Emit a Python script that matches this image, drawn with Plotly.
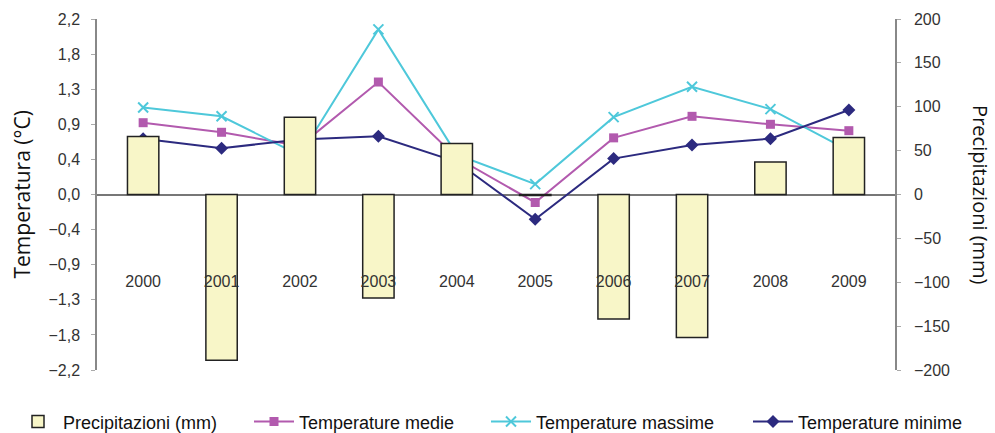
import plotly.graph_objects as go

anni = ["2000", "2001", "2002", "2003", "2004", "2005", "2006", "2007", "2008", "2009"]
precipitazioni = [66, -189, 88, -118, 58, -1, -142, -163, 37, 65]
temp_medie = [0.90, 0.78, 0.61, 1.41, 0.46, -0.10, 0.71, 0.98, 0.88, 0.80]
temp_massime = [1.09, 0.98, 0.49, 2.07, 0.50, 0.13, 0.97, 1.35, 1.07, 0.55]
temp_minime = [0.70, 0.58, 0.69, 0.73, 0.41, -0.31, 0.45, 0.62, 0.70, 1.06]

temp_ticks = [-2.2, -1.76, -1.32, -0.88, -0.44, 0, 0.44, 0.88, 1.32, 1.76, 2.2]
prec_ticks = [-200, -150, -100, -50, 0, 50, 100, 150, 200]

fig = go.Figure()

fig.add_trace(go.Bar(
    x=anni, y=precipitazioni, name="Precipitazioni (mm)", yaxis="y2",
    width=0.4, legend="legend",
    marker=dict(color="#F8F6C8", line=dict(color="#222222", width=1.5)),
))
fig.add_trace(go.Scatter(
    x=anni, y=temp_medie, name="Temperature medie", mode="lines+markers",
    legend="legend2",
    line=dict(color="#B25AAE", width=2),
    marker=dict(symbol="square", size=9, color="#B25AAE"),
))
fig.add_trace(go.Scatter(
    x=anni, y=temp_massime, name="Temperature massime", mode="lines+markers",
    legend="legend3",
    line=dict(color="#4EC8DA", width=2),
    marker=dict(symbol="x-thin", size=10, line=dict(color="#4EC8DA", width=2)),
))
fig.add_trace(go.Scatter(
    x=anni, y=temp_minime, name="Temperature minime", mode="lines+markers",
    legend="legend4",
    line=dict(color="#2C2A7F", width=2),
    marker=dict(symbol="diamond", size=10, color="#2C2A7F"),
))

tick_font = dict(family="Liberation Sans, Arial", size=16, color="#333333")
legend_font = dict(family="Liberation Sans, Arial", size=18, color="#111111")


def legend_box(px):
    return dict(
        orientation="h", x=px / 995, xref="container", y=-0.095, yref="paper",
        xanchor="left", yanchor="top", font=legend_font,
        itemwidth=40, bgcolor="rgba(0,0,0,0)",
    )


fig.update_layout(
    width=995, height=433,
    margin=dict(l=97, r=100, t=19, b=63, autoexpand=False),
    paper_bgcolor="white", plot_bgcolor="white",
    separators=",.",
    showlegend=True,
    legend=legend_box(13),
    legend2=legend_box(249),
    legend3=legend_box(486),
    legend4=legend_box(748),
    xaxis=dict(
        type="category", anchor="free", position=0.285,
        showline=False, showgrid=False, ticks="", zeroline=False,
        tickfont=tick_font,
    ),
    yaxis=dict(
        range=[-2.2, 2.2], tickvals=temp_ticks, tickformat=".1f",
        showgrid=False, showline=True, linecolor="#888888", linewidth=1.5,
        ticks="outside", ticklen=4, tickcolor="#AAAAAA",
        zeroline=True, zerolinecolor="#777777", zerolinewidth=1.5,
        tickfont=tick_font, ticklabelstandoff=8,
    ),
    yaxis2=dict(
        range=[-200, 200], tickvals=prec_ticks, overlaying="y", side="right",
        showgrid=False, showline=True, linecolor="#888888", linewidth=1.5,
        ticks="outside", ticklen=4, tickcolor="#AAAAAA", zeroline=False,
        tickfont=tick_font, ticklabelstandoff=10,
    ),
    bargap=0.6,
)

fig.add_annotation(
    text="Temperatura (°C)", textangle=-90, x=-0.094, xref="paper", y=0.5, yref="paper",
    xanchor="center", yanchor="middle", showarrow=False,
    font=dict(family="Open Sans", size=21, color="#111111"),
)
fig.add_annotation(
    text="Precipitazioni (mm)", textangle=90, x=1.107, xref="paper", y=0.5, yref="paper",
    xanchor="center", yanchor="middle", showarrow=False,
    font=dict(family="Open Sans", size=20, color="#111111"),
)

fig.write_html("out.html")
